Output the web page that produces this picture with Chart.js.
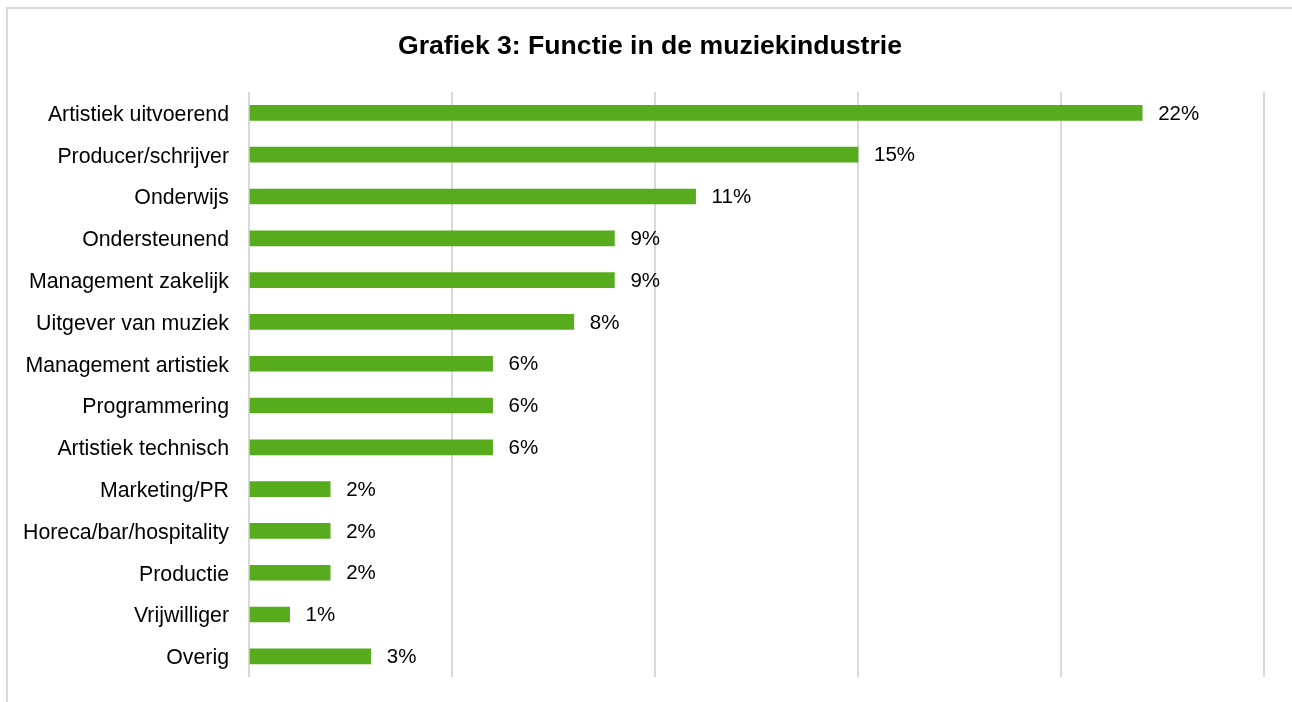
<!DOCTYPE html>
<html>
<head>
<meta charset="utf-8">
<script src="https://cdn.jsdelivr.net/npm/chart.js@4/dist/chart.umd.min.js"></script>
<style>
  html, body { margin: 0; padding: 0; background: #fff; }
  #wrap { position: relative; width: 1292px; height: 702px; }
  #frame { position: absolute; left: 6px; top: 7px; right: -4px; bottom: -4px; border-top: 2px solid #d9d9d9; border-left: 2px solid #d9d9d9; }
  canvas { position: absolute; left: 0; top: 0; }
</style>
</head>
<body>
<div id="wrap">
  <div id="frame"></div>
  <canvas id="functieChart" width="1292" height="702"></canvas>
</div>
<script>
  // functie in de muziekindustrie, aandeel in procenten
  var categories = [
    'Artistiek uitvoerend', 'Producer/schrijver', 'Onderwijs', 'Ondersteunend',
    'Management zakelijk', 'Uitgever van muziek', 'Management artistiek', 'Programmering',
    'Artistiek technisch', 'Marketing/PR', 'Horeca/bar/hospitality', 'Productie',
    'Vrijwilliger', 'Overig'
  ];
  var percentages = [22, 15, 11, 9, 9, 8, 6, 6, 6, 2, 2, 2, 1, 3];
  var axisMax = 25;
  var axisStep = 5;
  var chartTitle = 'Grafiek 3: Functie in de muziekindustrie';

  var FONT = 'Liberation Sans, Arial, sans-serif';

  // title centred over the whole frame, not only the plot
  var frameTitle = {
    id: 'frameTitle',
    afterDraw: function (chart) {
      var ctx = chart.ctx;
      ctx.save();
      ctx.fillStyle = '#000';
      ctx.font = 'bold 26.6px ' + FONT;
      ctx.textAlign = 'center';
      ctx.textBaseline = 'middle';
      ctx.fillText(chartTitle, 650, 47);
      ctx.restore();
    }
  };

  // percentage labels just right of each bar end
  var valueLabels = {
    id: 'valueLabels',
    afterDatasetsDraw: function (chart) {
      var ctx = chart.ctx;
      var meta = chart.getDatasetMeta(0);
      ctx.save();
      ctx.fillStyle = '#000';
      ctx.font = '20.5px ' + FONT;
      ctx.textAlign = 'left';
      ctx.textBaseline = 'middle';
      meta.data.forEach(function (bar, i) {
        ctx.fillText(percentages[i] + '%', bar.x + 16, bar.y + 1);
      });
      ctx.restore();
    }
  };

  new Chart(document.getElementById('functieChart'), {
    type: 'bar',
    data: {
      labels: categories,
      datasets: [{
        data: percentages,
        backgroundColor: '#56ac1c',
        borderWidth: 0,
        barThickness: 15
      }]
    },
    plugins: [valueLabels, frameTitle],
    options: {
      indexAxis: 'y',
      responsive: false,
      animation: false,
      layout: { padding: { left: 0, top: 92, right: 28, bottom: 17 } },
      plugins: {
        legend: { display: false },
        tooltip: { enabled: false },
        title: { display: false }
      },
      scales: {
        x: {
          min: 0,
          max: axisMax,
          ticks: { display: false, stepSize: axisStep },
          grid: { color: '#d9d9d9', lineWidth: 2, drawTicks: false },
          border: { display: false }
        },
        y: {
          grid: { display: false },
          border: { display: false },
          ticks: { color: '#000', font: { family: FONT, size: 21.3 }, padding: 12, labelOffset: 2 },
          afterFit: function (scale) { scale.width = 249; }
        }
      }
    }
  });
</script>
</body>
</html>
